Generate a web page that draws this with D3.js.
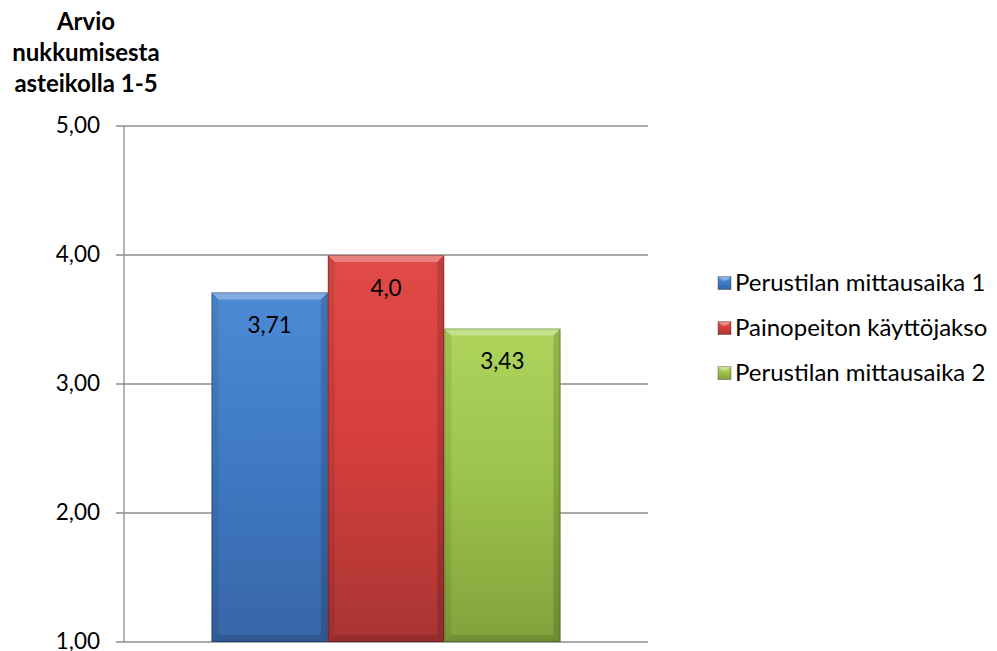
<!DOCTYPE html>
<html><head><meta charset="utf-8">
<script src="https://cdn.jsdelivr.net/npm/d3@7"></script>
<style>body{margin:0;background:#fff}svg{display:block}text{font-family:Lato,"Open Sans",sans-serif;fill:#000}</style>
</head><body>
<svg id="c" width="997" height="651"></svg>
<script>
const categories = ["Perustilan mittausaika 1", "Painopeiton käyttöjakso", "Perustilan mittausaika 2"];
const values = [3.71, 4.0, 3.43];
const valueLabels = ["3,71", "4,0", "3,43"];
const yTicks = [1, 2, 3, 4, 5];
const yTickLabels = ["1,00", "2,00", "3,00", "4,00", "5,00"];
const titleLines = ["Arvio", "nukkumisesta", "asteikolla 1-5"];
const colors = [
  {top:"#4d8ad6", mid:"#3f79c4", bot:"#3766a6"},
  {top:"#e04b48", mid:"#d43f3d", bot:"#a93534"},
  {top:"#aed45c", mid:"#9bc24a", bot:"#82a23c"}
];

const svg = d3.select("#c");
const x0 = 124, x1 = 648, yTop = 126, yBot = 642;
const y = d3.scaleLinear().domain([1,5]).range([yBot, yTop]);
const gx = d3.scaleBand().domain(categories).range([x0 + 87.5, x1 - 87.5]);
const FS = 22.5;

const defs = svg.append("defs");
colors.forEach((c,i)=>{
  const g = defs.append("linearGradient").attr("id","g"+i).attr("x1",0).attr("y1",0).attr("x2",0).attr("y2",1);
  g.append("stop").attr("offset","0%").attr("stop-color",c.top);
  g.append("stop").attr("offset","50%").attr("stop-color",c.mid);
  g.append("stop").attr("offset","100%").attr("stop-color",c.bot);
});

svg.append("g").selectAll("line").data(yTicks).join("line")
  .attr("x1", x0 - 8).attr("x2", x1)
  .attr("y1", d=>y(d)).attr("y2", d=>y(d))
  .attr("stroke","#8c8c8c").attr("stroke-width",1.3);
svg.append("line").attr("x1",x0).attr("x2",x0).attr("y1",yTop).attr("y2",yBot)
  .attr("stroke","#8c8c8c").attr("stroke-width",1.3);

svg.append("g").selectAll("text").data(yTicks).join("text")
  .attr("x", 100).attr("y", d=>y(d)).attr("dy","0.33em")
  .attr("text-anchor","end").attr("font-size",FS)
  .text((d,i)=>yTickLabels[i]);

svg.append("g").selectAll("text").data(titleLines).join("text")
  .attr("x", 86).attr("y",(d,i)=>22 + i*31).attr("dy","0.35em")
  .attr("text-anchor","middle").attr("font-size",24).attr("font-weight","bold")
  .text(d=>d);

const bw = 7;
categories.forEach((cat,i)=>{
  const bx = gx(cat), w = gx.bandwidth(), ty = y(values[i]), by = y(1), h = by - ty;
  const g = svg.append("g");
  g.append("rect").attr("x",bx).attr("y",ty).attr("width",w).attr("height",h)
    .attr("fill",`url(#g${i})`);
  g.append("path").attr("d",`M${bx},${ty}L${bx+w},${ty}L${bx+w-bw},${ty+bw}L${bx+bw},${ty+bw}Z`)
    .attr("fill","#fff").attr("opacity",0.3);
  g.append("path").attr("d",`M${bx},${ty}L${bx+bw},${ty+bw}L${bx+bw},${by-bw}L${bx},${by}Z`)
    .attr("fill","#000").attr("opacity",0.08);
  g.append("path").attr("d",`M${bx+w},${ty}L${bx+w-bw},${ty+bw}L${bx+w-bw},${by-bw}L${bx+w},${by}Z`)
    .attr("fill","#000").attr("opacity",0.15);
  g.append("path").attr("d",`M${bx},${by}L${bx+bw},${by-bw}L${bx+w-bw},${by-bw}L${bx+w},${by}Z`)
    .attr("fill","#000").attr("opacity",0.12);
  g.append("rect").attr("x",bx+0.5).attr("y",ty+0.5).attr("width",w-1).attr("height",h-1)
    .attr("fill","none").attr("stroke","#000").attr("stroke-opacity",0.25).attr("stroke-width",1);
  g.append("text").attr("x",bx+w/2).attr("y",ty+33).attr("dy","0.35em")
    .attr("text-anchor","middle").attr("font-size",FS).text(valueLabels[i]);
});

const lg = svg.append("g");
categories.forEach((cat,i)=>{
  const ly = 283 + i*45;
  const s = lg.append("g");
  s.append("rect").attr("x",718).attr("y",ly-6.5).attr("width",13).attr("height",13).attr("fill",`url(#g${i})`)
    .attr("stroke","#000").attr("stroke-opacity",0.3);
  s.append("path").attr("d",`M718,${ly-6.5}L731,${ly-6.5}L727,${ly-2.5}L722,${ly-2.5}Z`).attr("fill","#fff").attr("opacity",0.35);
  lg.append("text").attr("x",735).attr("y",ly).attr("dy","0.35em").attr("font-size",24).text(cat);
});
</script>
</body></html>
